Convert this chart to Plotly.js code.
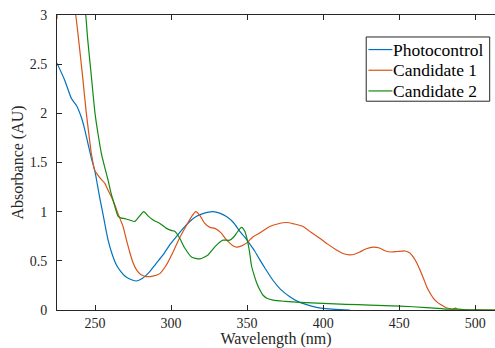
<!DOCTYPE html>
<html>
<head>
<meta charset="utf-8">
<script src="https://cdn.plot.ly/plotly-3.0.1.min.js"></script>
<style>html,body{margin:0;padding:0;background:#fff;}#chart{width:495px;height:348px;}</style>
</head>
<body>
<div id="chart"></div>
<script>
const seriesNames = ["Photocontrol", "Candidate 1", "Candidate 2"];

const photoX = [225,230,234.5,237.8,241,243,245.4,247.5,249.8,251.5,253,254.8,256.4,258.6,261,264,267,270,272.8,277.2,281,286,290,294.7,299,303.5,308,312.3,316.5,321,327.6,332,336.4,341,345.2,348.5,351.8,355,358,362,367.1,372,378.1,383.5,389.1,395,400,408,417.6];
const photoY = [2.51,2.34,2.15,2.08,1.96,1.85,1.69,1.55,1.42,1.28,1.15,1.01,0.88,0.71,0.58,0.46,0.39,0.34,0.315,0.295,0.32,0.39,0.47,0.56,0.66,0.745,0.83,0.90,0.95,0.98,1.0,0.985,0.95,0.89,0.80,0.74,0.67,0.60,0.52,0.42,0.30,0.21,0.135,0.085,0.055,0.03,0.017,0.006,0.0];

const cand1X = [225,226,236,237.3,240,242,244.3,246.5,247.6,249.8,252,254,256.4,258.5,260.8,263,265.1,268.4,270.7,272.8,275,277.2,280,283.8,288,292.6,297,301.3,305.5,310.1,313.5,316.3,319,322.2,325.5,328.8,333.2,336,338.6,341,343,346,349.6,354,358,364.9,370,375.9,381,386.8,392,397.8,403,408.8,413,417.6,421,424.1,428,432.9,437,441,445,449,453.8,457,459.2,461.5,463.6,466,468,470,472.4,475,477.9,480.5,483.4,487,495,505,513];
const cand1Y = [2.96,3.1,3.1,3.0,2.64,2.35,2.0,1.72,1.59,1.42,1.37,1.33,1.29,1.22,1.15,1.07,0.98,0.85,0.71,0.59,0.48,0.41,0.36,0.34,0.345,0.37,0.46,0.59,0.73,0.86,0.95,1.0,0.96,0.88,0.84,0.83,0.78,0.72,0.68,0.65,0.64,0.65,0.68,0.745,0.78,0.85,0.875,0.89,0.875,0.85,0.79,0.73,0.67,0.61,0.575,0.56,0.57,0.59,0.62,0.64,0.63,0.60,0.59,0.595,0.60,0.58,0.54,0.48,0.41,0.32,0.24,0.18,0.12,0.08,0.05,0.025,0.013,0.005,0.0,0.0,0.0];

const cand2X = [243,243.9,245.2,247.2,250,252,254.2,256.4,258.6,260.2,261.8,263.5,265.1,267.4,269.5,272.8,276.1,279,282,285,288.2,292.6,297,300,302.4,305.7,309,313.4,318.9,324.3,327,329.9,332,334.2,338.6,341,343,346.3,348.5,350,351.5,352.9,354.5,356.2,358.5,360.5,363,367.1,375,384.7,400,415,430.7,450.4,468,478,483.4,486,487,488,492,500,513];
const cand2Y = [3.1,3.0,2.75,2.44,2.0,1.79,1.59,1.45,1.32,1.21,1.12,1.03,0.955,0.935,0.93,0.915,0.90,0.95,1.0,0.955,0.915,0.88,0.83,0.81,0.80,0.73,0.63,0.54,0.52,0.56,0.61,0.66,0.69,0.71,0.71,0.74,0.78,0.84,0.80,0.72,0.60,0.45,0.36,0.28,0.20,0.15,0.12,0.10,0.088,0.078,0.068,0.058,0.05,0.04,0.025,0.013,0.008,0.012,0.02,0.012,0.005,0.002,0.0];

const xTicks = [250,300,350,400,450,500];
const yTicks = [0,0.5,1,1.5,2,2.5,3];
const yTickText = ["0","0.5","1","1.5","2","2.5","3"];

const colors = ["#0072BD", "#D95319", "#128a12"];
const serif = "Liberation Serif";

const traces = [
  {x: photoX, y: photoY},
  {x: cand1X, y: cand1Y},
  {x: cand2X, y: cand2Y}
].map((t, i) => Object.assign(t, {
  name: seriesNames[i],
  type: "scatter", mode: "lines",
  line: {color: colors[i], width: 1.2, shape: "spline", smoothing: 0.6},
  showlegend: false
}));

// Legend box drawn in paper coordinates (layout only)
const plotL = 57.3, plotW = 437.7, plotT = 14.7, plotH = 295.3;
const px = v => (v - plotL) / plotW;
const py = v => (plotT + plotH - v) / plotH;
const legRows = [49.3, 70, 90.7];

const shapes = [{
  type: "rect", xref: "paper", yref: "paper",
  x0: px(366.3), x1: px(489.7), y0: py(101), y1: py(36.7),
  line: {color: "#262626", width: 1}, fillcolor: "#ffffff", layer: "above"
}];
const annotations = [];
seriesNames.forEach((name, i) => {
  shapes.push({
    type: "line", xref: "paper", yref: "paper",
    x0: px(368.5), x1: px(392.5), y0: py(legRows[i]), y1: py(legRows[i]),
    line: {color: colors[i], width: 1.2}, layer: "above"
  });
  annotations.push({
    text: name, xref: "paper", yref: "paper",
    x: px(392), y: py(legRows[i]), xanchor: "left", yanchor: "middle",
    showarrow: false, borderpad: 0,
    font: {family: serif, size: 17.5, color: "#000000"}
  });
});

const axisCommon = {
  showgrid: false, zeroline: false, showline: true,
  linecolor: "#262626", linewidth: 1,
  ticks: "inside", ticklen: 5, tickwidth: 1, tickcolor: "#262626",
  tickfont: {family: serif, size: 14, color: "#262626"}
};

const layout = {
  width: 495, height: 348,
  font: {family: serif},
  margin: {l: plotL, r: 0, t: plotT, b: 38, pad: 0},
  paper_bgcolor: "#ffffff", plot_bgcolor: "#ffffff",
  showlegend: false,
  shapes: shapes,
  annotations: annotations,
  xaxis: Object.assign({}, axisCommon, {
    range: [225, 513], tickvals: xTicks, mirror: "ticks",
    title: {text: "Wavelength (nm)", font: {family: serif, size: 16, color: "#262626"}, standoff: 4}
  }),
  yaxis: Object.assign({}, axisCommon, {
    range: [0, 3], tickvals: yTicks, ticktext: yTickText, mirror: false,
    ticklabelstandoff: 6,
    title: {text: "Absorbance (AU)", font: {family: serif, size: 16, color: "#262626"}, standoff: 2}
  })
};

Plotly.newPlot("chart", traces, layout, {displayModeBar: false, staticPlot: true});
</script>
</body>
</html>
